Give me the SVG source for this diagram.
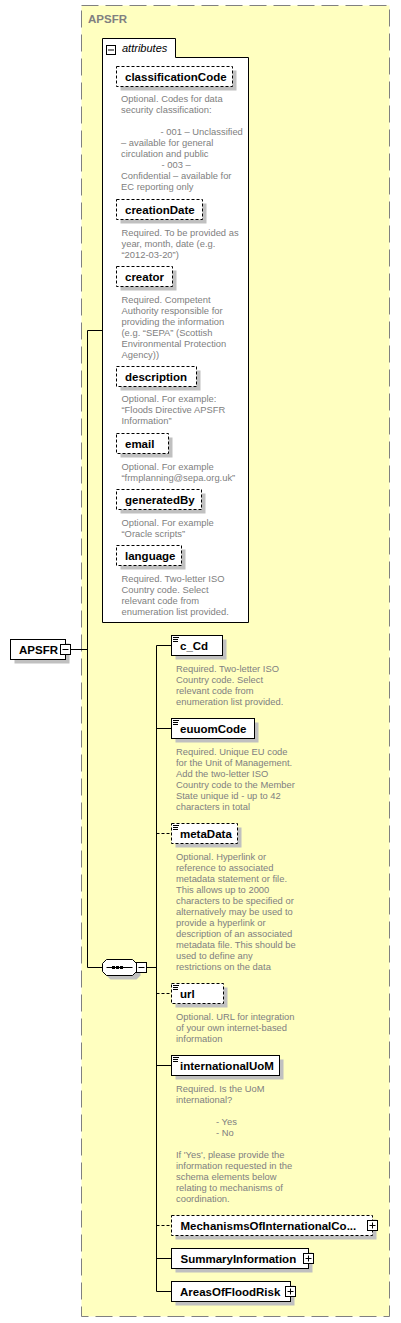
<svg xmlns="http://www.w3.org/2000/svg" width="401" height="1323" viewBox="0 0 401 1323">
<style>
.bg{fill:#fff}
.box{fill:#fff;stroke:#000;stroke-width:1}
.dbox{fill:#fff;stroke:#000;stroke-width:1;stroke-dasharray:3,2}
.sh{fill:#c0c0c0}
.nm{font-family:"Liberation Sans",Arial,sans-serif;font-size:11.5px;font-weight:bold;fill:#000}
.ds{font-family:"Liberation Sans",Arial,sans-serif;font-size:9.4px;fill:#808080}
.ln{stroke:#000;stroke-width:1;fill:none}
.dln{stroke:#000;stroke-width:1;fill:none;stroke-dasharray:3,2}
.ic{stroke:#000;stroke-width:1}
</style>
<rect class="bg" x="0" y="0" width="401" height="1323"/>
<g id="APSFR_type">
<rect x="81.5" y="5.5" width="308" height="1311" fill="#ffffc0" stroke="#808080" stroke-width="1" stroke-dasharray="17,7"/>
<text x="88" y="22.5" font-family="Liberation Sans,Arial,sans-serif" font-size="11.5" font-weight="bold" fill="#808080">APSFR</text>
</g>
<g id="connectors">
<path class="ln" d="M70.5,649.5 H87.5"/>
<path class="ln" d="M102,330.5 H87.5 V967.5 H102.5"/>
<path class="ln" d="M146.5,967.5 H156.5"/>
<path class="ln" d="M156.5,645.5 V1291.5 H171.5"/>
<path class="ln" d="M156.5,645.5 H171.5"/>
<path class="ln" d="M156.5,728.5 H171.5"/>
<path class="dln" d="M156.5,833.5 H171.5"/>
<path class="dln" d="M156.5,993.5 H171.5"/>
<path class="ln" d="M156.5,1065.5 H171.5"/>
<path class="dln" d="M156.5,1225.5 H171.5"/>
<path class="ln" d="M156.5,1258.5 H171.5"/>
</g>
<g id="attributes">
<path d="M102.5,38.5 H175.5 V57.5 H248.5 V622.5 H102.5 Z" fill="#fff" stroke="#000"/>
<rect x="106.5" y="45.5" width="9" height="9" fill="#fff" stroke="#000"/>
<path class="ic" d="M108,50 H114"/>
<text x="122" y="52" font-family="Liberation Sans,Arial,sans-serif" font-size="11" font-style="italic" fill="#000">attributes</text>
</g>
<g id="classificationCode">
<rect class="sh" x="120.5" y="70.5" width="116" height="20"/>
<rect class="dbox" x="116.5" y="66.5" width="116" height="20"/>
<text class="nm" x="125" y="80.5">classificationCode</text>
<text class="ds"><tspan x="121" y="102">Optional. Codes for data</tspan><tspan x="121" y="113">security classification:</tspan><tspan x="160.5" y="135">- 001 – Unclassified</tspan><tspan x="121" y="146">– available for general</tspan><tspan x="121" y="157">circulation and public</tspan><tspan x="161.5" y="168">- 003 –</tspan><tspan x="121" y="179">Confidential – available for</tspan><tspan x="121" y="190">EC reporting only</tspan></text>
</g>
<g id="creationDate">
<rect class="sh" x="120.5" y="203.5" width="86" height="20"/>
<rect class="dbox" x="116.5" y="199.5" width="86" height="20"/>
<text class="nm" x="125" y="213.5">creationDate</text>
<text class="ds"><tspan x="121.5" y="236">Required. To be provided as</tspan><tspan x="121.5" y="247">year, month, date (e.g.</tspan><tspan x="121.5" y="258">“2012-03-20”)</tspan></text>
</g>
<g id="creator">
<rect class="sh" x="120.5" y="270.5" width="56" height="20"/>
<rect class="dbox" x="116.5" y="266.5" width="56" height="20"/>
<text class="nm" x="125" y="280.5">creator</text>
<text class="ds"><tspan x="121.5" y="303">Required. Competent</tspan><tspan x="121.5" y="314">Authority responsible for</tspan><tspan x="121.5" y="325">providing the information</tspan><tspan x="121.5" y="336">(e.g. “SEPA” (Scottish</tspan><tspan x="121.5" y="347">Environmental Protection</tspan><tspan x="121.5" y="358">Agency))</tspan></text>
</g>
<g id="description">
<rect class="sh" x="120.5" y="370.5" width="80" height="20"/>
<rect class="dbox" x="116.5" y="366.5" width="80" height="20"/>
<text class="nm" x="125" y="380.5">description</text>
<text class="ds"><tspan x="121.5" y="402">Optional. For example:</tspan><tspan x="121.5" y="413">“Floods Directive APSFR</tspan><tspan x="121.5" y="424">Information”</tspan></text>
</g>
<g id="email">
<rect class="sh" x="120.5" y="437.5" width="52" height="20"/>
<rect class="dbox" x="116.5" y="433.5" width="52" height="20"/>
<text class="nm" x="125" y="447.5">email</text>
<text class="ds"><tspan x="121.5" y="469.5">Optional. For example</tspan><tspan x="121.5" y="480.5">“frmplanning@sepa.org.uk”</tspan></text>
</g>
<g id="generatedBy">
<rect class="sh" x="120.5" y="493.5" width="85" height="20"/>
<rect class="dbox" x="116.5" y="489.5" width="85" height="20"/>
<text class="nm" x="125" y="503.5">generatedBy</text>
<text class="ds"><tspan x="121.5" y="525.5">Optional. For example</tspan><tspan x="121.5" y="536.5">“Oracle scripts”</tspan></text>
</g>
<g id="language">
<rect class="sh" x="120.5" y="549.5" width="65" height="20"/>
<rect class="dbox" x="116.5" y="545.5" width="65" height="20"/>
<text class="nm" x="125" y="559.5">language</text>
<text class="ds"><tspan x="121.5" y="581.5">Required. Two-letter ISO</tspan><tspan x="121.5" y="592.5">Country code. Select</tspan><tspan x="121.5" y="603.5">relevant code from</tspan><tspan x="121.5" y="614.5">enumeration list provided.</tspan></text>
</g>
<g id="APSFR">
<rect class="sh" x="14.5" y="643.5" width="55" height="20"/>
<rect class="box" x="10.5" y="639.5" width="55" height="20"/>
<text class="nm" x="19" y="653.5">APSFR</text>
<rect class="box" x="60.5" y="644.5" width="10" height="10"/>
<path class="ic" d="M62.5,649.5 H68.5"/>
</g>
<g id="sequence">
<path class="sh" d="M110.5,963.5 H136.5 L140.5,967.5 V975.5 L136.5,979.5 H110.5 L106.5,975.5 V967.5 Z"/>
<path class="box" d="M106.5,959.5 H132.5 L136.5,963.5 V971.5 L132.5,975.5 H106.5 L102.5,971.5 V963.5 Z"/>
<path class="ic" d="M106.5,967.5 H132.5"/>
<rect x="112" y="966" width="3" height="3" fill="#000"/>
<rect x="116" y="966" width="3" height="3" fill="#000"/>
<rect x="120" y="966" width="3" height="3" fill="#000"/>
<rect class="box" x="136.5" y="962.5" width="10" height="10"/>
<path class="ic" d="M138.5,967.5 H144.5"/>
</g>
<g id="c_Cd">
<rect class="sh" x="175.5" y="639.5" width="51" height="20"/>
<rect class="box" x="171.5" y="635.5" width="51" height="20"/>
<path class="ic" d="M173,637.5 H179 M173,639.5 H178 M173,641.5 H178"/>
<text class="nm" x="180" y="649.5">c_Cd</text>
<text class="ds"><tspan x="176" y="672">Required. Two-letter ISO</tspan><tspan x="176" y="683">Country code. Select</tspan><tspan x="176" y="694">relevant code from</tspan><tspan x="176" y="705">enumeration list provided.</tspan></text>
</g>
<g id="euuomCode">
<rect class="sh" x="175.5" y="722.5" width="83" height="20"/>
<rect class="box" x="171.5" y="718.5" width="83" height="20"/>
<path class="ic" d="M173,720.5 H179 M173,722.5 H178 M173,724.5 H178"/>
<text class="nm" x="180" y="732.5">euuomCode</text>
<text class="ds"><tspan x="176" y="755">Required. Unique EU code</tspan><tspan x="176" y="766">for the Unit of Management.</tspan><tspan x="176" y="777">Add the two-letter ISO</tspan><tspan x="176" y="788">Country code to the Member</tspan><tspan x="176" y="799">State unique id - up to 42</tspan><tspan x="176" y="810">characters in total</tspan></text>
</g>
<g id="metaData">
<rect class="sh" x="175.5" y="827.5" width="66" height="20"/>
<rect class="dbox" x="171.5" y="823.5" width="66" height="20"/>
<path class="ic" d="M173,825.5 H179 M173,827.5 H178 M173,829.5 H178"/>
<text class="nm" x="180" y="837.5">metaData</text>
<text class="ds"><tspan x="176" y="859.5">Optional. Hyperlink or</tspan><tspan x="176" y="870.5">reference to associated</tspan><tspan x="176" y="881.5">metadata statement or file.</tspan><tspan x="176" y="892.5">This allows up to 2000</tspan><tspan x="176" y="903.5">characters to be specified or</tspan><tspan x="176" y="914.5">alternatively may be used to</tspan><tspan x="176" y="925.5">provide a hyperlink or</tspan><tspan x="176" y="936.5">description of an associated</tspan><tspan x="176" y="947.5">metadata file. This should be</tspan><tspan x="176" y="958.5">used to define any</tspan><tspan x="176" y="969.5">restrictions on the data</tspan></text>
</g>
<g id="url">
<rect class="sh" x="175.5" y="987.5" width="52" height="20"/>
<rect class="dbox" x="171.5" y="983.5" width="52" height="20"/>
<path class="ic" d="M173,985.5 H179 M173,987.5 H178 M173,989.5 H178"/>
<text class="nm" x="180" y="997.5">url</text>
<text class="ds"><tspan x="176" y="1019.5">Optional. URL for integration</tspan><tspan x="176" y="1030.5">of your own internet-based</tspan><tspan x="176" y="1041.5">information</tspan></text>
</g>
<g id="internationalUoM">
<rect class="sh" x="175.5" y="1059.5" width="108" height="20"/>
<rect class="box" x="171.5" y="1055.5" width="108" height="20"/>
<path class="ic" d="M173,1057.5 H179 M173,1059.5 H178 M173,1061.5 H178"/>
<text class="nm" x="180" y="1069.5">internationalUoM</text>
<text class="ds"><tspan x="176" y="1091.5">Required. Is the UoM</tspan><tspan x="176" y="1102.5">international?</tspan><tspan x="216" y="1124.5">- Yes</tspan><tspan x="216" y="1135.5">- No</tspan><tspan x="176" y="1157.5">If 'Yes', please provide the</tspan><tspan x="176" y="1168.5">information requested in the</tspan><tspan x="176" y="1179.5">schema elements below</tspan><tspan x="176" y="1190.5">relating to mechanisms of</tspan><tspan x="176" y="1201.5">coordination.</tspan></text>
</g>
<g id="MechanismsOfInternationalCoordination">
<rect class="sh" x="175.5" y="1219.5" width="201" height="20"/>
<rect class="dbox" x="171.5" y="1215.5" width="201" height="20"/>
<text class="nm" x="180.5" y="1229.5">MechanismsOfInternationalCo...</text>
<rect class="box" x="367.5" y="1220.5" width="10" height="10"/>
<path class="ic" d="M369.5,1225.5 H375.5 M372.5,1222.5 V1228.5"/>
</g>
<g id="SummaryInformation">
<rect class="sh" x="175.5" y="1252.5" width="137" height="20"/>
<rect class="box" x="171.5" y="1248.5" width="137" height="20"/>
<text class="nm" x="180.5" y="1262.5">SummaryInformation</text>
<rect class="box" x="303.5" y="1253.5" width="10" height="10"/>
<path class="ic" d="M305.5,1258.5 H311.5 M308.5,1255.5 V1261.5"/>
</g>
<g id="AreasOfFloodRisk">
<rect class="sh" x="175.5" y="1285.5" width="119" height="20"/>
<rect class="box" x="171.5" y="1281.5" width="119" height="20"/>
<text class="nm" x="180" y="1295.5">AreasOfFloodRisk</text>
<rect class="box" x="285.5" y="1286.5" width="10" height="10"/>
<path class="ic" d="M287.5,1291.5 H293.5 M290.5,1288.5 V1294.5"/>
</g>
</svg>
